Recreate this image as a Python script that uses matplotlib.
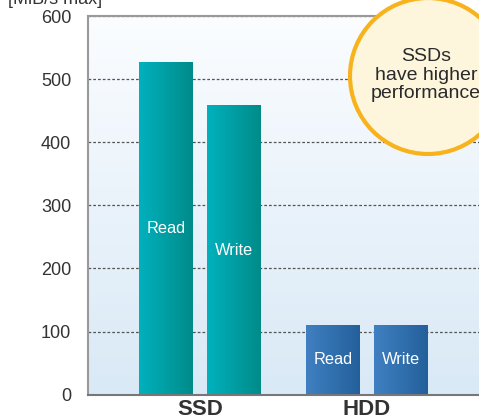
import numpy as np
import matplotlib
matplotlib.use('agg')
import matplotlib.pyplot as plt
from matplotlib.patches import Ellipse
from matplotlib.colors import LinearSegmentedColormap

## Data
groups = ["SSD", "HDD"]
series = ["Read", "Write"]
read_vals = [527, 110]
write_vals = [458, 110]
yticks = [0, 100, 200, 300, 400, 500, 600]
ylabel = "[MiB/s max]"
callout = "SSDs\nhave higher\nperformance"

plt.rcParams['font.family'] = ['Liberation Sans', 'DejaVu Sans']

fig = plt.figure(figsize=(4.79, 4.19), dpi=100)
ax = fig.add_axes([88/479, 24.3/419, 420/479, 378.7/419])

x = np.arange(len(groups))
w = 0.323
off = 0.2036
ax.set_xlim(-0.671, 1.844)
ax.set_ylim(0, 600)

# background gradient
bg = LinearSegmentedColormap.from_list('bg', ['#d9e9f6', '#fbfdff'])
ax.imshow(np.linspace(0, 1, 256).reshape(-1, 1), cmap=bg, origin='lower',
          extent=[-0.671, 1.844, 0, 600], aspect='auto', zorder=0)

ax.grid(axis='y', color='#555555', linestyle=(0, (2.2, 1.6)), linewidth=0.9, zorder=1)
ax.set_axisbelow(True)

teal = LinearSegmentedColormap.from_list('teal', ['#00b1be', '#008b89'])
blue = LinearSegmentedColormap.from_list('blue', ['#4080c2', '#23609b'])
grad = np.linspace(0, 1, 128).reshape(1, -1)

b1 = ax.bar(x - off, read_vals, w, color='none', zorder=2)
b2 = ax.bar(x + off, write_vals, w, color='none', zorder=2)
for bars in (b1, b2):
    for i, p in enumerate(bars):
        cm = teal if i == 0 else blue
        x0, h, bw = p.get_x(), p.get_height(), p.get_width()
        ax.imshow(grad, cmap=cm, extent=[x0, x0 + bw, 0, h], aspect='auto', zorder=2)

# bar labels
lab_y = [[228, 250], [359, 359]]
for i in range(len(groups)):
    for j, vals in enumerate((read_vals, write_vals)):
        xx = x[i] + (off if j else -off)
        py = lab_y[i][j]
        yy = (394.7 - py) / 378.7 * 600
        ax.text(xx, yy, series[j], color='white', fontsize=11.8, ha='center', va='center', zorder=3)

ax.set_xlim(-0.671, 1.844)
ax.set_ylim(0, 600)
ax.set_yticks(yticks)
ax.set_yticklabels([str(t) for t in yticks], fontsize=13, color='#333333')
ax.tick_params(axis='y', length=0, pad=12)
ax.set_xticks(x)
ax.set_xticklabels(groups, fontsize=16, fontweight='bold', color='#333333')
ax.tick_params(axis='x', length=0, pad=3)

for s in ['left', 'top', 'bottom']:
    ax.spines[s].set_color('#999999')
    ax.spines[s].set_linewidth(1.5)
ax.spines['bottom'].set_color('#777777')
ax.spines['right'].set_visible(False)

fig.text(8/479, 1 + 1/419, ylabel, fontsize=13, color='#333333', ha='left', va='center')

circ = Ellipse((428/479, 1 - 76/419), 156/479, 156/419, transform=fig.transFigure,
               facecolor='#fdf6dd', edgecolor='#f7b21c', linewidth=3, zorder=5)
fig.add_artist(circ)
fig.text(426/479, 1 - 75/419, callout, fontsize=14, color='#2a2a2a', ha='center', va='center',
         linespacing=1.15, zorder=6)

plt.savefig('out.png', dpi=100)
